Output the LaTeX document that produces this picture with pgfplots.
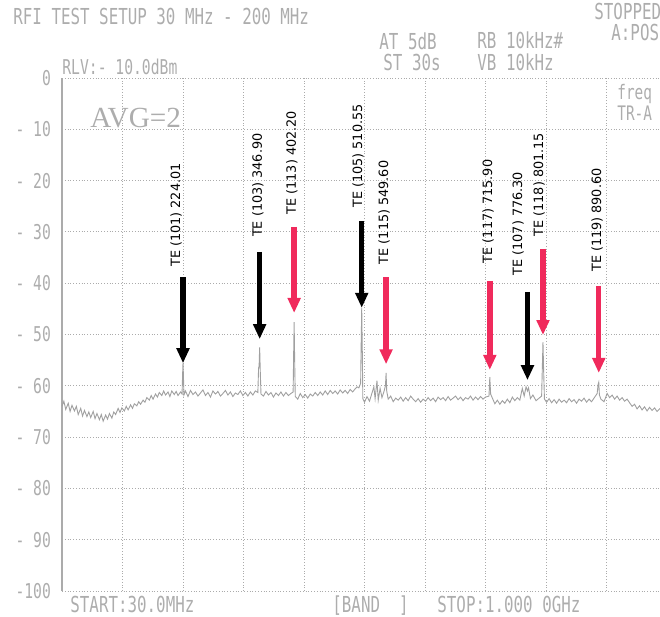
\documentclass[border=0pt]{standalone}
\usepackage{pgfplots}
\pgfplotsset{compat=1.18}
\usepackage{fontspec}
\usetikzlibrary{arrows.meta}

% screen font of the analyser, marker labels
\newfontfamily\lcd[FakeStretch=0.72]{DejaVu Sans Mono}
\newfontfamily\avgfont{Liberation Serif}
\newfontfamily\lbl{DejaVu Sans}

\definecolor{scr}{HTML}{ADADAD}
\definecolor{grd}{HTML}{ABABAB}
\definecolor{trc}{HTML}{A0A0A0}
\definecolor{mk}{HTML}{F02A5C}

% measured spectrum: frequency (MHz), level (dBm)
\pgfplotstableread{
f lvl
30 -64.0
33 -63.0
36 -64.6
40 -63.4
43 -65.0
46 -63.8
50 -64.9
53 -64.0
56 -65.6
60 -64.4
63 -65.9
66 -64.8
70 -66.0
73 -65.1
76 -66.2
80 -65.0
83 -66.4
86 -65.4
90 -66.6
93 -65.6
96 -66.9
100 -65.7
103 -66.5
106 -65.4
110 -66.3
113 -65.1
116 -65.6
120 -64.4
123 -65.2
126 -64.3
130 -64.9
133 -64.0
136 -64.7
140 -63.7
143 -64.4
146 -63.5
150 -63.9
153 -63.1
156 -63.6
160 -62.8
163 -63.2
166 -62.3
170 -62.8
173 -61.9
176 -62.6
180 -61.6
183 -62.2
186 -61.3
190 -61.9
193 -61.0
196 -61.8
200 -61.2
203 -62.1
206 -61.0
210 -61.7
213 -61.1
216 -61.9
220 -61.2
222.5 -61.6
223.3 -58.0
224.01 -55.5
224.7 -58.0
225.5 -61.8
228 -61.0
232 -62.1
236 -60.9
240 -61.7
244 -61.2
248 -62.0
252 -61.4
256 -60.8
260 -61.9
264 -61.3
268 -62.2
272 -61.0
276 -61.6
280 -61.1
284 -62.0
288 -61.5
292 -60.9
296 -61.8
300 -61.2
304 -62.1
308 -61.4
312 -61.7
316 -61.0
320 -61.9
324 -61.3
328 -62.0
332 -61.2
336 -61.8
340 -61.0
344 -61.3
345.2 -56.5
346.0 -56.2
346.9 -52.5
347.8 -56.8
349 -61.6
353 -62.0
357 -61.1
361 -61.8
365 -61.3
369 -62.2
373 -61.4
377 -61.9
381 -61.2
385 -62.0
389 -61.3
393 -61.9
397 -61.5
400.6 -61.2
401.3 -54.6
402.2 -47.6
403.0 -54.8
404 -62.1
408 -62.6
412 -61.5
416 -62.3
420 -61.7
424 -62.4
428 -61.6
432 -62.0
436 -61.3
440 -61.9
444 -61.2
448 -61.8
452 -61.0
456 -61.7
460 -60.9
464 -61.5
468 -61.0
472 -61.6
476 -60.8
480 -61.4
484 -60.9
488 -61.5
492 -60.7
496 -61.2
500 -60.6
503 -60.2
506 -60.4
508.8 -59.5
509.4 -54.0
510.55 -44.8
511.6 -54.5
512.3 -62.5
515 -63.2
519 -62.1
523 -63.0
527 -61.4
530 -60.2
532 -62.5
535 -59.0
537 -62.8
540 -60.5
543 -62.3
546 -61.2
548.6 -60.0
549.6 -57.5
550.6 -61.0
553 -62.6
557 -62.0
561 -63.1
565 -62.4
569 -62.8
573 -62.2
577 -63.0
581 -62.3
585 -62.9
589 -62.0
593 -62.6
597 -63.1
601 -62.5
605 -63.2
609 -62.6
613 -63.0
617 -62.3
621 -62.9
625 -62.4
629 -63.1
633 -62.2
637 -62.7
641 -62.3
645 -62.9
649 -62.1
653 -62.8
657 -62.4
661 -62.0
665 -62.7
669 -62.2
673 -62.9
677 -62.3
681 -62.6
685 -62.0
689 -62.8
693 -62.2
697 -62.7
701 -62.1
705 -62.6
709 -62.2
714.6 -62.0
715.9 -58.3
717.2 -61.6
720 -62.4
724 -63.5
728 -62.8
732 -63.6
736 -62.9
740 -63.4
744 -62.6
748 -63.3
752 -62.2
756 -62.9
760 -62.3
764 -62.8
768 -60.5
771 -62.0
774 -60.2
776.3 -61.0
778 -60.4
781 -62.5
785 -61.8
790 -62.9
795 -62.4
799 -62.0
800.2 -56.0
801.15 -51.5
802.1 -56.5
803.5 -62.6
807 -63.2
811 -62.5
815 -63.3
819 -62.7
823 -63.4
827 -62.6
831 -63.2
835 -62.8
839 -63.3
843 -62.5
847 -63.1
851 -62.7
855 -63.4
859 -62.6
863 -63.0
867 -62.4
871 -63.2
875 -62.6
879 -63.1
883 -62.4
888 -61.5
889.6 -59.7
890.6 -59.3
891.6 -61.8
894 -62.6
899 -63.1
904 -61.5
908 -62.3
912 -61.8
916 -62.6
920 -62.0
924 -62.8
928 -62.3
932 -63.0
936 -62.6
940 -63.3
944 -64.0
948 -63.6
952 -64.5
956 -63.9
960 -64.7
964 -64.1
968 -64.9
972 -64.2
976 -64.8
980 -64.3
984 -65.0
989 -64.4
}\spectrum

\begin{document}
\begin{tikzpicture}
\clip (0,0) rectangle (330pt,308.5pt);

\begin{axis}[
  at={(31pt,13pt)}, anchor=south west,
  scale only axis, width=299pt, height=256.5pt,
  xmin=30, xmax=988.78, ymin=-100, ymax=0,
  axis line style={draw=none},
  xtick={30,127,224,321,418,515,612,709,806,903},
  xticklabels=\empty,
  ytick={-100,-90,...,0},
  yticklabels={-100,- 90,- 80,- 70,- 60,- 50,- 40,- 30,- 20,- 10,0},
  yticklabel style={font=\lcd\fontsize{10.2}{10.2}\selectfont, text=scr, anchor=east, xshift=-2pt},
  major tick length=0pt,
  grid=major,
  x grid style={grd, densely dotted, line width=0.5pt},
  y grid style={grd, densely dotted, line width=0.5pt},
  clip=false,
]
\draw[grd, line width=0.6pt] (rel axis cs:0,0) -- (rel axis cs:0,1);

\addplot[trc, line width=0.45pt, mark=none] table[x=f, y=lvl] {\spectrum};

% marker arrows: from (f, start) down to (f, tip)
\pgfplotsset{
  blk/.style={black, line width=2.7pt, -{Triangle[width=6.2pt,length=7.5pt]}, mark=none},
  red/.style={mk, line width=2.7pt, -{Triangle[width=6.2pt,length=7.5pt]}, mark=none},
}
\addplot[blk] coordinates {(224.01,-38.8) (224.01,-55.6)};
\addplot[blk] coordinates {(346.90,-33.9) (346.90,-50.9)};
\addplot[blk] coordinates {(510.55,-27.9) (510.55,-44.8)};
\addplot[blk] coordinates {(776.30,-41.7) (776.30,-58.9)};
\addplot[red] coordinates {(402.20,-29.0) (402.20,-45.8)};
\addplot[red] coordinates {(549.60,-38.8) (549.60,-55.8)};
\addplot[red] coordinates {(715.90,-39.6) (715.90,-56.9)};
\addplot[red] coordinates {(801.15,-33.3) (801.15,-50.1)};
\addplot[red] coordinates {(890.60,-40.5) (890.60,-57.5)};

% marker captions
\tikzset{te/.style={rotate=90, inner sep=0pt, font=\lbl\fontsize{6.4}{6.4}\selectfont, text=black}}
\node[te] at (axis cs:212.8,-26.7) {TE (101) 224.01};
\node[te] at (axis cs:344.2,-20.9) {TE (103) 346.90};
\node[te] at (axis cs:398.7,-16.5) {TE (113) 402.20};
\node[te] at (axis cs:504.6,-15.2) {TE (105) 510.55};
\node[te] at (axis cs:546.3,-26.2) {TE (115) 549.60};
\node[te] at (axis cs:713.0,-26.0) {TE (117) 715.90};
\node[te] at (axis cs:761.1,-28.4) {TE (107) 776.30};
\node[te] at (axis cs:794.8,-20.8) {TE (118) 801.15};
\node[te] at (axis cs:887.8,-27.7) {TE (119) 890.60};
\end{axis}

% analyser screen annotations, placed in screen pixels from the top-left corner
\begin{scope}[x=0.5pt, y=-0.5pt, shift={(0pt,308.5pt)}]
\tikzset{scrtxt/.style={anchor=base west, inner sep=0pt, text=scr, font=\lcd\fontsize{11}{11}\selectfont}}
\node[scrtxt] at (13,25) {RFI TEST SETUP 30 MHz - 200 MHz};
\node[scrtxt] at (594,20) {STOPPED};
\node[scrtxt] at (611,41) {A:POS};
\node[scrtxt] at (379,50) {AT 5dB};
\node[scrtxt] at (477,49) {RB 10kHz\#};
\node[scrtxt] at (383,71) {ST 30s};
\node[scrtxt] at (477,71) {VB 10kHz};
\node[scrtxt, font=\lcd\fontsize{10.2}{10.2}\selectfont] at (62,75) {RLV:- 10.0dBm};
\node[scrtxt, font=\lcd\fontsize{10}{10}\selectfont] at (617,100) {freq};
\node[scrtxt, font=\lcd\fontsize{10}{10}\selectfont] at (617,121) {TR-A};
\node[anchor=base west, inner sep=0pt, text=scr, font=\avgfont\fontsize{14.6}{14.6}\selectfont] at (90,128) {AVG=2};
\node[scrtxt] at (70,613) {START:30.0MHz};
\node[scrtxt] at (332,613) {[BAND\ \ ]};
\node[scrtxt] at (437,613) {STOP:1.000 0GHz};
\end{scope}
\end{tikzpicture}
\end{document}
